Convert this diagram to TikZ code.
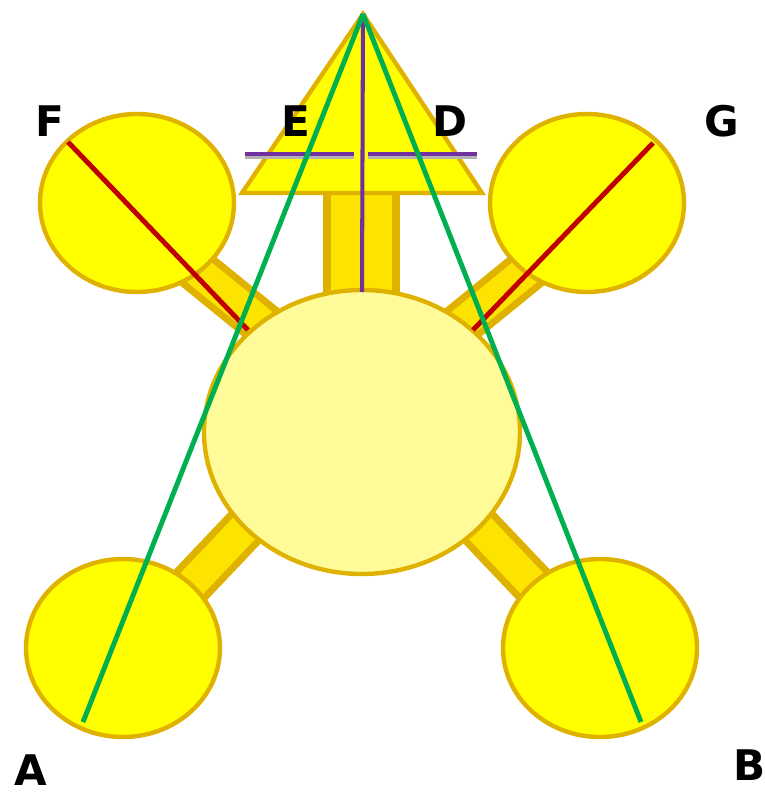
\documentclass[tikz,border=0pt]{standalone}
\usepackage{fontspec}
\setmainfont{DejaVu Sans}
\usetikzlibrary{calc}
\definecolor{PodYellow}{RGB}{255,255,0}
\definecolor{RimGold}{RGB}{224,178,0}
\definecolor{HubYellow}{RGB}{255,251,153}
\definecolor{ArmYellow}{RGB}{252,228,0}
\definecolor{SightGreen}{RGB}{0,176,80}
\definecolor{AxisPurple}{RGB}{112,48,160}
\definecolor{RayRed}{RGB}{192,0,0}
\tikzset{pod/.style={fill=PodYellow,draw=RimGold,line width=2.5pt},
	hub/.style={fill=HubYellow,draw=RimGold,line width=2.5pt},
	armrim/.style={draw=RimGold,line width=25.5pt},
	armcore/.style={draw=ArmYellow,line width=17.5pt},
	sight/.style={draw=SightGreen,line width=2.8pt},
	axis/.style={draw=AxisPurple,line width=2.3pt},
	ray/.style={draw=RayRed,line width=2.8pt},
	letter/.style={font=\fontsize{24}{24}\selectfont\bfseries,inner sep=0pt}}

\begin{document}
\begin{tikzpicture}[x=0.02cm,y=-0.02cm]
	\useasboundingbox (0,0) rectangle (764,793);
	\coordinate (hub) at (362,432);
	\coordinate (podF) at (137,203);
	\coordinate (podG) at (587,203);
	\coordinate (podA) at (123,648);
	\coordinate (podB) at (600,648);
	\coordinate (apex) at (363,14);
	\coordinate (stemtop) at (361.5,190);
	\coordinate (stembot) at (361.5,300);
	% arms
	\foreach \a/\b in {{(156,237)}/{(296,351)},{(568,237)}/{(428,351)},{(162,615)}/{(272,499)},{(562,615)}/{(452,499)}}{
		\draw[armrim] \a -- \b;
		\draw[armcore] \a -- \b;
	}
	\draw[draw=RimGold,line width=43.6pt] (stemtop) -- (stembot);
	\draw[draw=ArmYellow,line width=34.6pt] (stemtop) -- (stembot);
	% pods and hub
	\foreach \p in {podF,podG,podA,podB}
		\draw[pod] (\p) ellipse (97 and 89);
	\draw[hub] (hub) ellipse (158 and 142);
	\draw[pod,line join=miter] (apex) -- (242,193) -- (482,193) -- cycle;
	% sight lines
	\coordinate (eL) at (245,154);
	\coordinate (eR) at (354,154);
	\coordinate (dL) at (368,154);
	\coordinate (dR) at (477,154);
	\draw[draw=gray!60,line width=2.3pt] ([yshift=-1.5pt]eL) -- ([yshift=-1.5pt]eR);
	\draw[draw=gray!60,line width=2.3pt] ([yshift=-1.5pt]dL) -- ([yshift=-1.5pt]dR);
	\draw[axis] (eL) -- (eR);
	\draw[axis] (dL) -- (dR);
	\draw[axis] (apex) -- (362,292);
	\draw[ray] (68,142) -- (248,330);
	\draw[ray] (653,143) -- (473,330);
	\draw[sight] (apex) -- (83,722);
	\draw[sight] (apex) -- (641,722);
	% labels
	\node[letter] (labF) at (50,121) {F};
	\node[letter] (labE) at (296,121) {E};
	\node[letter] (labD) at (450,121) {D};
	\node[letter] (labG) at (722,121) {G};
	\node[letter] (labA) at (31,770) {A};
	\node[letter] (labB) at (750,765) {B};
\end{tikzpicture}
\end{document}
